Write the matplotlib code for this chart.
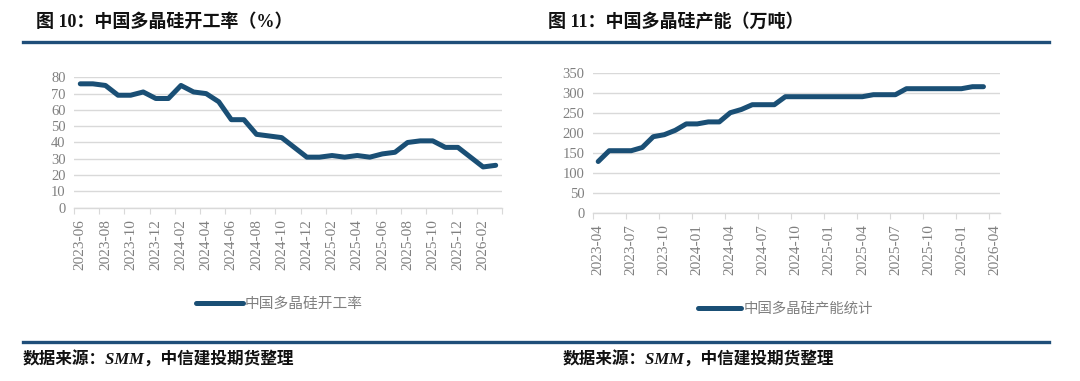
import matplotlib
matplotlib.use("Agg")
import matplotlib.pyplot as plt
from matplotlib.lines import Line2D

plt.rcParams['font.family'] = ['Liberation Serif', 'Noto Sans CJK SC', 'DejaVu Sans']

# ---- data ----
left_months = ["2023-06", "2023-07", "2023-08", "2023-09", "2023-10", "2023-11", "2023-12",
               "2024-01", "2024-02", "2024-03", "2024-04", "2024-05", "2024-06", "2024-07",
               "2024-08", "2024-09", "2024-10", "2024-11", "2024-12", "2025-01", "2025-02",
               "2025-03", "2025-04", "2025-05", "2025-06", "2025-07", "2025-08", "2025-09",
               "2025-10", "2025-11", "2025-12", "2026-01", "2026-02", "2026-03"]
left_rate = [76, 76, 75, 69, 69, 71, 67, 67, 75, 71, 70, 65, 54, 54, 45, 44, 43, 37, 31, 31,
             32, 31, 32, 31, 33, 34, 40, 41, 41, 37, 37, 31, 25, 26]
left_yticks = [0, 10, 20, 30, 40, 50, 60, 70, 80]

right_months = ["2023-04", "2023-05", "2023-06", "2023-07", "2023-08", "2023-09", "2023-10",
                "2023-11", "2023-12", "2024-01", "2024-02", "2024-03", "2024-04", "2024-05",
                "2024-06", "2024-07", "2024-08", "2024-09", "2024-10", "2024-11", "2024-12",
                "2025-01", "2025-02", "2025-03", "2025-04", "2025-05", "2025-06", "2025-07",
                "2025-08", "2025-09", "2025-10", "2025-11", "2025-12", "2026-01", "2026-02",
                "2026-03", "2026-04"]
right_capacity = [128, 155, 155, 155, 163, 190, 195, 206, 222, 222, 227, 227, 250, 258, 270,
                  270, 270, 290, 290, 290, 290, 290, 290, 290, 290, 295, 295, 295, 310, 310,
                  310, 310, 310, 310, 315, 315]
right_yticks = [0, 50, 100, 150, 200, 250, 300, 350]

left_title = "图 10：中国多晶硅开工率（%）"
right_title = "图 11：中国多晶硅产能（万吨）"
left_label = "中国多晶硅开工率"
right_label = "中国多晶硅产能统计"
source = "数据来源：SMM，中信建投期货整理"

LINE = '#1a4f75'
GRID = '#d9d9d9'
TXT = '#808080'
BAR = '#1f4e79'

fig = plt.figure(figsize=(10.8, 3.81), dpi=100)


def style(ax, n_slots, step, yticks, ymax, months):
    ax.set_xlim(-0.5, n_slots - 0.5)
    ax.set_ylim(0, ymax)
    ax.set_yticks(yticks)
    ax.grid(axis='y', color=GRID, linewidth=1.0)
    ax.set_axisbelow(True)
    for s in ['top', 'right', 'left']:
        ax.spines[s].set_visible(False)
    ax.spines['bottom'].set_color(GRID)
    ax.spines['bottom'].set_linewidth(1.0)
    ax.tick_params(axis='y', length=0, labelsize=10.5, labelcolor=TXT, pad=6)
    # tick marks at slot boundaries, labels at slot centres
    ax.set_xticks([i - 0.5 for i in range(0, n_slots + 1, step) if i - 0.5 <= n_slots - 0.5])
    ax.set_xticks(list(range(0, n_slots, step)), minor=True)
    ax.set_xticklabels([months[i] for i in range(0, n_slots, step)], minor=True, rotation=90)
    ax.tick_params(axis='x', which='major', length=4, color=GRID, labelbottom=False)
    ax.tick_params(axis='x', which='minor', length=0, labelsize=11, labelcolor=TXT, pad=8)


# left chart
ax1 = fig.add_axes([0.0685, 0.4549, 0.3963, 0.3422])
x1 = list(range(len(left_rate)))
ax1.plot(x1, left_rate, color=LINE, linewidth=3.6, solid_capstyle='round', solid_joinstyle='round')
style(ax1, len(left_months), 2, left_yticks, 80, left_months)

# right chart
ax2 = fig.add_axes([0.5488, 0.4417, 0.3771, 0.3675])
x2 = list(range(len(right_capacity)))
ax2.plot(x2, right_capacity, color=LINE, linewidth=3.6, solid_capstyle='round', solid_joinstyle='round')
style(ax2, len(right_months), 3, right_yticks, 350, right_months)

# legends
h1 = Line2D([], [], color=LINE, linewidth=3.6, solid_capstyle='round')
fig.legend([h1], [left_label], loc='center left', bbox_to_anchor=(0.169, 1 - 304 / 381),
           frameon=False, handlelength=3.2, handletextpad=0.15,
           prop={'family': ['Noto Sans CJK SC'], 'size': 10.6}, labelcolor=TXT)
h2 = Line2D([], [], color=LINE, linewidth=3.6, solid_capstyle='round')
fig.legend([h2], [right_label], loc='center left', bbox_to_anchor=(0.634, 1 - 309 / 381),
           frameon=False, handlelength=3.0, handletextpad=0.15,
           prop={'family': ['Noto Sans CJK SC'], 'size': 10.4}, labelcolor=TXT)

# titles
fig.text(0.0333, 1 - 22 / 381, left_title, fontsize=13, fontweight='bold', va='center', ha='left',
         color='#111111')
fig.text(0.507, 1 - 22 / 381, right_title, fontsize=13, fontweight='bold', va='center', ha='left',
         color='#111111')

# decorative rules
fig.add_artist(Line2D([23 / 1080, 1049 / 1080], [1 - 42 / 381] * 2, color=BAR, linewidth=2.4,
                      transform=fig.transFigure))
fig.add_artist(Line2D([23 / 1080, 1049 / 1080], [1 - 342 / 381] * 2, color=BAR, linewidth=2.4,
                      transform=fig.transFigure))

# sources
fig.text(23 / 1080, 1 - 360 / 381, source, fontsize=12, fontweight='bold', fontstyle='italic',
         va='center', ha='left', color='#111111')
fig.text(563 / 1080, 1 - 360 / 381, source, fontsize=12, fontweight='bold', fontstyle='italic',
         va='center', ha='left', color='#111111')

fig.savefig("out.png", dpi=100)
